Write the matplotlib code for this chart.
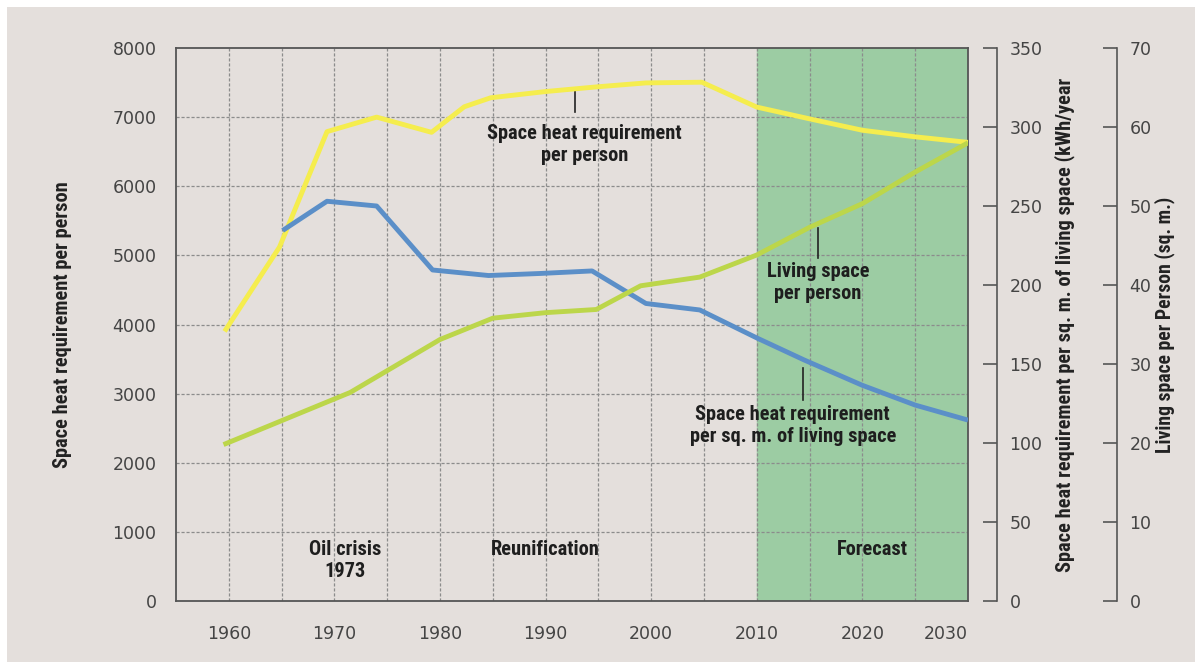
import matplotlib.pyplot as plt
from matplotlib.patches import Rectangle
from matplotlib import font_manager

# space heat requirement per person (kWh, left axis)
years_person = [1959.6, 1964.8, 1969.3, 1974.0, 1979.2, 1982.3, 1984.8, 1990.0, 1995.0, 1999.5, 2004.8, 2010.0, 2015.0, 2020.0, 2025.0, 2030.0]
heat_person = [3900, 5120, 6790, 7000, 6780, 7150, 7280, 7370, 7440, 7495, 7505, 7145, 6975, 6810, 6715, 6635]

# space heat requirement per sq. m. (kWh/year, right axis 1)
years_sqm = [1965.1, 1969.3, 1974.0, 1979.3, 1984.6, 1989.5, 1994.4, 1999.5, 2004.6, 2010.0, 2014.5, 2020.0, 2025.0, 2030.0]
heat_sqm = [234.5, 253.0, 250.0, 209.5, 206.0, 207.3, 208.9, 188.3, 184.2, 166.5, 152.5, 136.5, 124.0, 114.5]

# living space per person (sq. m., right axis 2)
years_space = [1959.5, 1971.5, 1980.0, 1985.0, 1990.0, 1994.8, 1999.0, 2004.6, 2010.0, 2015.0, 2020.0, 2025.0, 2030.0]
living_space = [19.8, 26.4, 33.1, 35.8, 36.5, 36.9, 39.9, 41.0, 43.8, 47.3, 50.3, 54.3, 58.0]

year_ticks = [1960, 1970, 1980, 1990, 2000, 2010, 2020, 2030]
left_ticks = [0, 1000, 2000, 3000, 4000, 5000, 6000, 7000, 8000]
right1_ticks = [0, 50, 100, 150, 200, 250, 300, 350]
right2_ticks = [0, 10, 20, 30, 40, 50, 60, 70]

bg = '#e4dfdc'
txt = '#444444'

# pick a narrow font if one is installed
names = set(f.name for f in font_manager.fontManager.ttflist)
cond = [n for n in ['Roboto Condensed', 'DejaVu Sans Condensed', 'Liberation Sans Narrow',
                    'Open Sans Condensed', 'Noto Sans Condensed'] if n in names]
narrow = len(cond) > 0
cond = cond + ['DejaVu Sans']
fsz = 14.7 if narrow else 12

fig = plt.figure(figsize=(12.03, 6.62), dpi=100, facecolor='white')
fig.patches.append(Rectangle((7 / 1203, -0.01), 1 - 15 / 1203, 1.01 - 7 / 662,
                             transform=fig.transFigure, facecolor=bg, edgecolor='none', zorder=-10))

ax = fig.add_axes([176 / 1203, 1 - 601 / 662, 792 / 1203, 553 / 662])
ax.set_facecolor(bg)
ax.set_xlim(1955, 2030)
ax.set_ylim(0, 8000)

ax.axvspan(2010, 2030, color='#9ccca3', zorder=0)
for x in range(1960, 2030, 5):
    ax.axvline(x, color='#8c8c8c', lw=0.9, ls=(0, (2.5, 1.5)), zorder=1)
for y in left_ticks[1:-1]:
    ax.axhline(y, color='#8c8c8c', lw=0.9, ls=(0, (2.5, 1.5)), zorder=1)

ax.set_xticks(year_ticks)
ax.set_xticklabels([str(y) for y in year_ticks])
ax.xaxis.get_majorticklabels()[-1].set_horizontalalignment('right')
ax.set_yticks(left_ticks)
ax.tick_params(axis='both', length=0, labelsize=12.5, labelcolor=txt)
ax.tick_params(axis='x', pad=17)
ax.tick_params(axis='y', pad=14)
for s in ax.spines.values():
    s.set_color('#555555')
    s.set_linewidth(1.3)
ax.set_ylabel('Space heat requirement per person', family=cond, fontweight='bold',
              fontsize=fsz, color='#222222')
ax.yaxis.set_label_coords(-0.131, 0.5)

ax1 = ax.twinx()
ax1.set_ylim(0, 350)
ax1.set_yticks(right1_ticks)
ax1.spines['right'].set_position(('axes', 1.0366))
ax2 = ax.twinx()
ax2.set_ylim(0, 70)
ax2.set_yticks(right2_ticks)
ax2.spines['right'].set_position(('axes', 1.188))
for a in (ax1, ax2):
    for k in ('top', 'bottom', 'left'):
        a.spines[k].set_visible(False)
    a.spines['right'].set_color('#555555')
    a.spines['right'].set_linewidth(1.2)
    a.tick_params(axis='y', direction='in', length=10, width=1.2, color='#555555',
                  pad=9, labelsize=12.5, labelcolor=txt)
ax1.set_ylabel('Space heat requirement per sq. m. of living space (kWh/year', family=cond,
               fontweight='bold', fontsize=fsz, color='#222222')
ax1.yaxis.set_label_coords(1.109, 0.5)
ax2.set_ylabel('Living space per Person (sq. m.)', family=cond, fontweight='bold',
               fontsize=fsz - 0.5, color='#222222')
ax2.yaxis.set_label_coords(1.235, 0.5)

ax.plot(years_person, heat_person, color='#f5ed4e', lw=3.5, zorder=5, solid_capstyle='butt')
ax2.plot(years_space, living_space, color='#bcd64a', lw=3.5, zorder=5, solid_capstyle='butt')
ax1.plot(years_sqm, heat_sqm, color='#5b8fc8', lw=3.5, zorder=6, solid_capstyle='butt')

ann = dict(family=cond, fontweight='bold', fontsize=fsz, color='#1e1e1e', ha='center',
           va='top', linespacing=1.2)
ax.text(1993.7, 6900, 'Space heat requirement\nper person', **ann)
ax.plot([1992.8, 1992.8], [7410, 7070], color='#222222', lw=1.2)
ax.text(2015.8, 4910, 'Living space\nper person', **ann)
ax.plot([2015.8, 2015.8], [5400, 4960], color='#222222', lw=1.2)
ax.text(2013.4, 2830, 'Space heat requirement\nper sq. m. of living space', **ann)
ax.plot([2014.4, 2014.4], [3370, 2910], color='#222222', lw=1.2)
ax.text(1971.0, 878, 'Oil crisis\n1973', **ann)
ax.text(1990.0, 878, 'Reunification', **ann)
ax.text(2020.9, 878, 'Forecast', **ann)

fig.savefig('out.png', dpi=100, facecolor=fig.get_facecolor())
